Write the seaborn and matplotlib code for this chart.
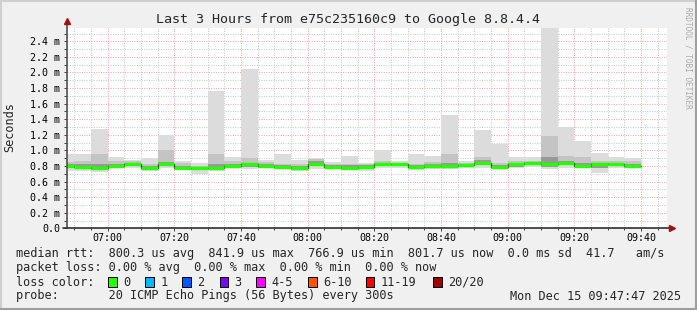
import matplotlib
matplotlib.use("Agg")
import matplotlib.pyplot as plt
import seaborn as sns
import pandas as pd
from matplotlib.patches import Rectangle
from matplotlib.lines import Line2D

# ---------------- data ----------------
bar_times = ["06:45", "06:50", "06:55", "07:00", "07:05", "07:10", "07:15", "07:20",
             "07:25", "07:30", "07:35", "07:40", "07:45", "07:50", "07:55", "08:00",
             "08:05", "08:10", "08:15", "08:20", "08:25", "08:30", "08:35", "08:40",
             "08:45", "08:50", "08:55", "09:00", "09:05", "09:10", "09:15", "09:20",
             "09:25", "09:30", "09:35"]
# ms values (smoke percentiles and median)
smoke_min = [0.74, 0.74, 0.72, 0.77, 0.77, 0.74, 0.78, 0.75, 0.70, 0.74, 0.77, 0.76,
             0.77, 0.76, 0.73, 0.76, 0.76, 0.75, 0.73, 0.77, 0.78, 0.75, 0.76, 0.76,
             0.77, 0.78, 0.76, 0.77, 0.79, 0.76, 0.77, 0.77, 0.71, 0.78, 0.78]
smoke_p25 = [0.78, 0.77, 0.75, 0.79, 0.80, 0.76, 0.80, 0.77, 0.75, 0.76, 0.79, 0.79,
             0.78, 0.78, 0.75, 0.80, 0.78, 0.77, 0.76, 0.80, 0.80, 0.77, 0.78, 0.79,
             0.79, 0.81, 0.78, 0.79, 0.81, 0.79, 0.81, 0.79, 0.78, 0.81, 0.80]
median_rtt = [0.80, 0.79, 0.77, 0.80, 0.82, 0.77, 0.82, 0.77, 0.77, 0.77, 0.80, 0.82,
              0.80, 0.79, 0.77, 0.82, 0.79, 0.78, 0.79, 0.82, 0.82, 0.79, 0.80, 0.80,
              0.81, 0.84, 0.79, 0.82, 0.84, 0.82, 0.84, 0.80, 0.82, 0.83, 0.80]
smoke_p75 = [0.82, 0.83, 0.82, 0.82, 0.84, 0.80, 0.85, 0.80, 0.79, 0.83, 0.82, 0.84,
             0.82, 0.81, 0.80, 0.86, 0.81, 0.81, 0.81, 0.84, 0.83, 0.81, 0.82, 0.84,
             0.83, 0.88, 0.81, 0.84, 0.85, 0.92, 0.87, 0.84, 0.84, 0.84, 0.83]
smoke_p90 = [0.85, 0.86, 0.96, 0.86, 0.86, 0.82, 1.00, 0.84, 0.80, 0.96, 0.86, 0.90,
             0.85, 0.82, 0.82, 0.89, 0.83, 0.82, 0.83, 0.87, 0.84, 0.82, 0.85, 0.96,
             0.84, 0.92, 0.84, 0.87, 0.87, 1.18, 0.93, 0.92, 0.87, 0.86, 0.86]
smoke_max = [0.96, 0.95, 1.28, 0.92, 0.88, 0.90, 1.20, 0.87, 0.84, 1.76, 0.91, 2.04,
             0.88, 0.95, 0.88, 0.90, 0.85, 0.93, 0.84, 1.00, 0.86, 0.95, 0.93, 1.45,
             0.86, 1.26, 1.08, 0.91, 0.91, 2.57, 1.30, 1.12, 0.97, 0.91, 0.90]

xtick_labels = ["07:00", "07:20", "07:40", "08:00", "08:20", "08:40", "09:00", "09:20", "09:40"]
ytick_values = [0.0, 0.2, 0.4, 0.6, 0.8, 1.0, 1.2, 1.4, 1.6, 1.8, 2.0, 2.2, 2.4]
ytick_labels = ["0.0", "0.2 m", "0.4 m", "0.6 m", "0.8 m", "1.0 m", "1.2 m", "1.4 m",
                "1.6 m", "1.8 m", "2.0 m", "2.2 m", "2.4 m"]
loss_labels = ["0", "1", "2", "3", "4-5", "6-10", "11-19", "20/20"]
loss_colors = ["#26ff00", "#00b8ff", "#0059ff", "#7e00ff", "#ff00ff", "#ff5500", "#ff0000", "#a10000"]

title = "Last 3 Hours from e75c235160c9 to Google 8.8.4.4"
line1 = "median rtt:  800.3 us avg  841.9 us max  766.9 us min  801.7 us now  0.0 ms sd  41.7   am/s"
line2 = "packet loss: 0.00 % avg  0.00 % max  0.00 % min  0.00 % now"
line4 = "probe:       20 ICMP Echo Pings (56 Bytes) every 300s"
stamp = "Mon Dec 15 09:47:47 2025"

# ---------------- style ----------------
sns.set_style("white")
plt.rcParams['font.family'] = ['DejaVu Sans Mono', 'DejaVu Sans']

W, H = 697, 310
def fx(px):
    return px / W
def fy(py):
    return 1 - py / H

def tmin(s):
    h, m = s.split(":")
    return int(h) * 60 + int(m)

step = 5
starts = [tmin(t) for t in bar_times]
ends = [s + step for s in starts]
x0 = 6 * 60 + 47 + 47 / 60
x1 = x0 + 180

fig = plt.figure(figsize=(W / 100, H / 100), dpi=100, facecolor="#f0f0f0")
ax = fig.add_axes([fx(67), fy(228.3), 600 / W, 200.3 / H])
ax.set_facecolor("white")

# smoke layers
layers = [(smoke_min, smoke_max, "#dcdcdc"),
          (smoke_p25, smoke_p90, "#c4c4c4"),
          (smoke_p25, smoke_p75, "#999999")]
for lo, hi, c in layers:
    ax.bar(starts, [h - l for l, h in zip(lo, hi)], bottom=lo, width=step, align="edge",
           color=c, linewidth=0, zorder=2)

# median step line
df = pd.DataFrame({"t": starts + [ends[-1]], "ms": median_rtt + [median_rtt[-1]]})
sns.lineplot(data=df, x="t", y="ms", drawstyle="steps-post", estimator=None,
             color="#202020", lw=0.9, ax=ax, zorder=3)
ax.hlines(median_rtt, starts, ends, colors=loss_colors[0], lw=2.4, zorder=4)

ax.set_xlim(x0, x1)
ax.set_ylim(0, 2.571)
ax.set_xlabel("")
ax.set_ylabel("")

# ticks and grid
xmaj = [tmin(t) for t in xtick_labels]
ax.set_xticks(xmaj)
ax.set_xticklabels(xtick_labels)
ax.set_xticks([m for m in range(410, 590, 5) if m not in xmaj], minor=True)
ax.set_yticks(ytick_values)
ax.set_yticklabels(ytick_labels)
ax.set_yticks([v / 10 for v in range(1, 26, 2)], minor=True)
ax.set_axisbelow(True)
ax.grid(which="major", color="#ffa8a8", lw=0.75, linestyle=(0, (1, 1.3)))
ax.grid(which="minor", color="#cccccc", lw=0.75, linestyle=(0, (1, 1.3)))
ax.tick_params(axis="both", which="both", direction="out", color="#404040", width=0.7,
               left=True, bottom=True, labelsize=7.2, labelcolor="black")
ax.tick_params(axis="y", which="major", length=2.5, pad=2.6)
ax.tick_params(axis="y", which="minor", length=2.0)
ax.tick_params(axis="x", which="major", length=2.0, pad=1.5)
ax.tick_params(axis="x", which="minor", length=1.5)
for s in ax.spines.values():
    s.set_visible(False)

# axes with arrows
ax.add_line(Line2D([0, 0], [0, 1.03], transform=ax.transAxes, color="#505050", lw=1.2,
                   clip_on=False, zorder=5))
ax.add_line(Line2D([-0.006, 1.005], [0, 0], transform=ax.transAxes, color="#303030", lw=1.2,
                   clip_on=False, zorder=5))
ax.plot([0], [1.035], marker="^", color="#a01010", ms=5, transform=ax.transAxes,
        clip_on=False, zorder=6)
ax.plot([1.008], [0], marker=">", color="#a01010", ms=5, transform=ax.transAxes,
        clip_on=False, zorder=6)

# texts
fig.text(0.5, fy(19), title, ha="center", va="center", fontsize=9.6)
fig.text(fx(10), fy(127), "Seconds", rotation=90, ha="center", va="center", fontsize=8.6)
fig.text(fx(688), fy(58), "RRDTOOL / TOBI OETIKER", rotation=270, ha="center", va="center",
         fontsize=5.6, color="#aaaaaa")
fig.text(fx(16), fy(254), line1, ha="left", va="center", fontsize=8.6)
fig.text(fx(16), fy(268), line2, ha="left", va="center", fontsize=8.6)
fig.text(fx(16), fy(282), "loss color:", ha="left", va="center", fontsize=8.6)
fig.text(fx(16), fy(296), line4, ha="left", va="center", fontsize=8.6)
fig.text(fx(681), fy(296), stamp, ha="right", va="center", fontsize=8.6)

box_x = [108, 145.3, 182.2, 219.6, 256.4, 308.4, 365.8, 433.3]
for bx, lab, col in zip(box_x, loss_labels, loss_colors):
    fig.patches.append(Rectangle((fx(bx), fy(286.8)), 8.5 / W, 9.5 / H, transform=fig.transFigure,
                                 facecolor=col, edgecolor="black", lw=0.7))
    fig.text(fx(bx + 15), fy(282), lab, ha="left", va="center", fontsize=8.6)

# frame shading
fig.add_artist(Line2D([0, 1], [fy(0.7), fy(0.7)], transform=fig.transFigure, color="#cfcfcf", lw=1.5))
fig.add_artist(Line2D([fx(0.7), fx(0.7)], [0, 1], transform=fig.transFigure, color="#cfcfcf", lw=1.5))
fig.add_artist(Line2D([0, 1], [fy(309.3), fy(309.3)], transform=fig.transFigure, color="#9e9e9e", lw=1.5))
fig.add_artist(Line2D([fx(696.3), fx(696.3)], [0, 1], transform=fig.transFigure, color="#9e9e9e", lw=1.5))

fig.savefig("out.png", dpi=100, facecolor=fig.get_facecolor())
